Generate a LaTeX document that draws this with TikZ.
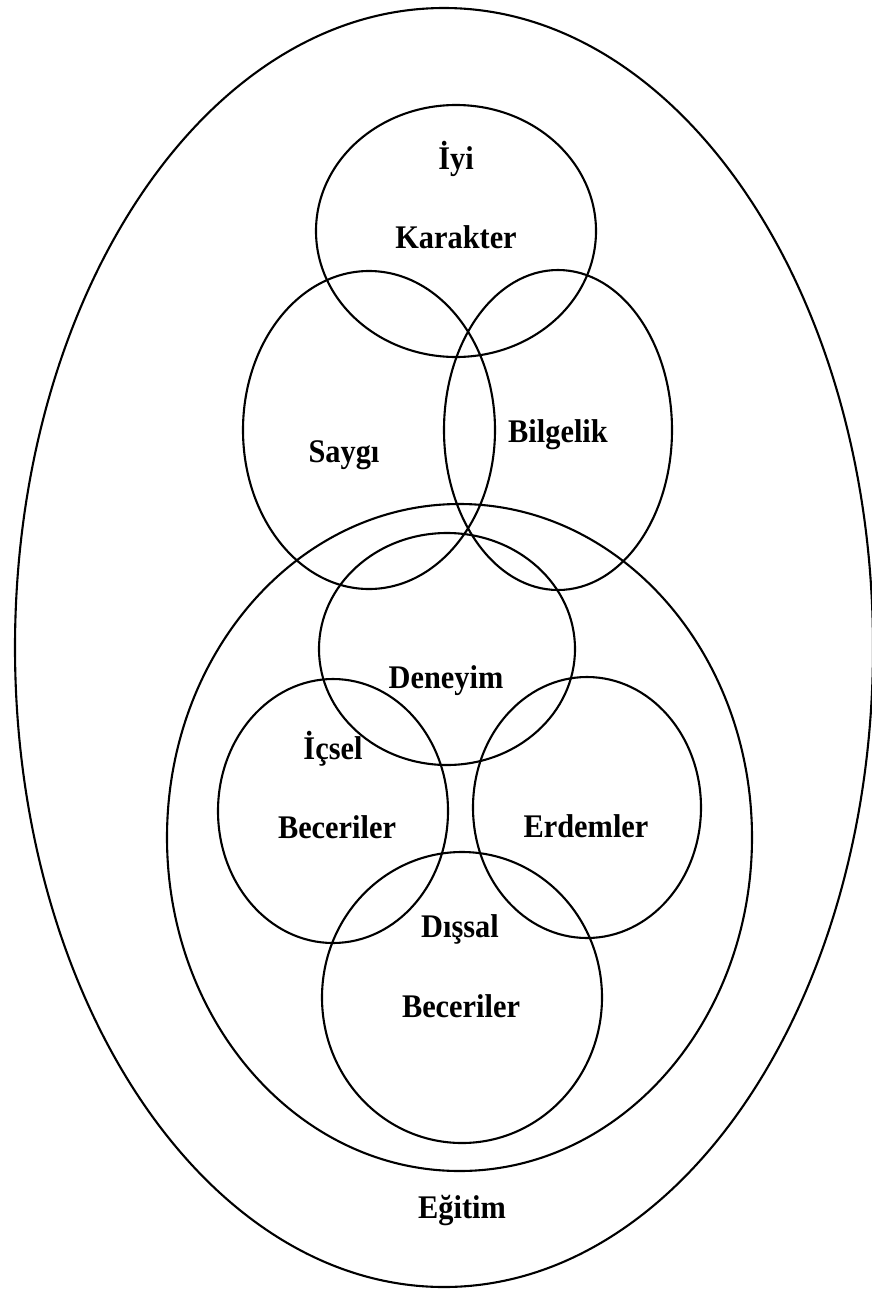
\documentclass[tikz,border=0pt]{standalone}
\usepackage{fontspec}
\setmainfont{Liberation Serif}
\usetikzlibrary{shapes.geometric}
\newcommand{\sqz}[1]{\scalebox{0.92}[1]{#1}}
\tikzset{
  ring/.style={draw=black, ellipse, line width=2.1pt, inner sep=0pt, fill=none},
  lbl/.style={font=\fontsize{33}{38}\selectfont\bfseries, anchor=base, inner sep=0pt, text=black}
}
\begin{document}
\begin{tikzpicture}[x=1pt, y=-1pt]
\useasboundingbox (0,0) rectangle (872,1291);
% outer
\node[ring, minimum width=858pt, minimum height=1279pt] (egitim) at (444,647.5) {};
% top group
\node[ring, minimum width=280pt, minimum height=252pt] (karakter) at (456,231) {};
\node[ring, minimum width=252pt, minimum height=318pt] (saygi) at (369,430) {};
\node[ring, minimum width=228pt, minimum height=320pt] (bilgelik) at (558,430) {};
% big inner ellipse
\node[ring, minimum width=585pt, minimum height=667pt] (inner) at (459.5,837.5) {};
% inner circles
\node[ring, minimum width=256pt, minimum height=232pt] (deneyim) at (447,649) {};
\node[ring, minimum width=230pt, minimum height=264pt] (icsel) at (333,811) {};
\node[ring, minimum width=228pt, minimum height=261pt] (erdemler) at (587,807.5) {};
\node[ring, minimum width=280pt, minimum height=291pt] (dissal) at (462,997.5) {};
% labels
\node[lbl] (t1) at (456,169) {\sqz{İyi}};
\node[lbl] (t2) at (456,248) {\sqz{Karakter}};
\node[lbl] (t3) at (344,462) {\sqz{Saygı}};
\node[lbl] (t4) at (558,442) {\sqz{Bilgelik}};
\node[lbl] (t5) at (446,688) {\sqz{Deneyim}};
\node[lbl] (t6) at (333,759) {\sqz{İçsel}};
\node[lbl] (t7) at (337,838) {\sqz{Beceriler}};
\node[lbl] (t8) at (586,837) {\sqz{Erdemler}};
\node[lbl] (t9) at (460,937.5) {\sqz{Dışsal}};
\node[lbl] (t10) at (461,1017) {\sqz{Beceriler}};
\node[lbl] (t11) at (462,1218) {\sqz{Eğitim}};
\end{tikzpicture}
\end{document}
